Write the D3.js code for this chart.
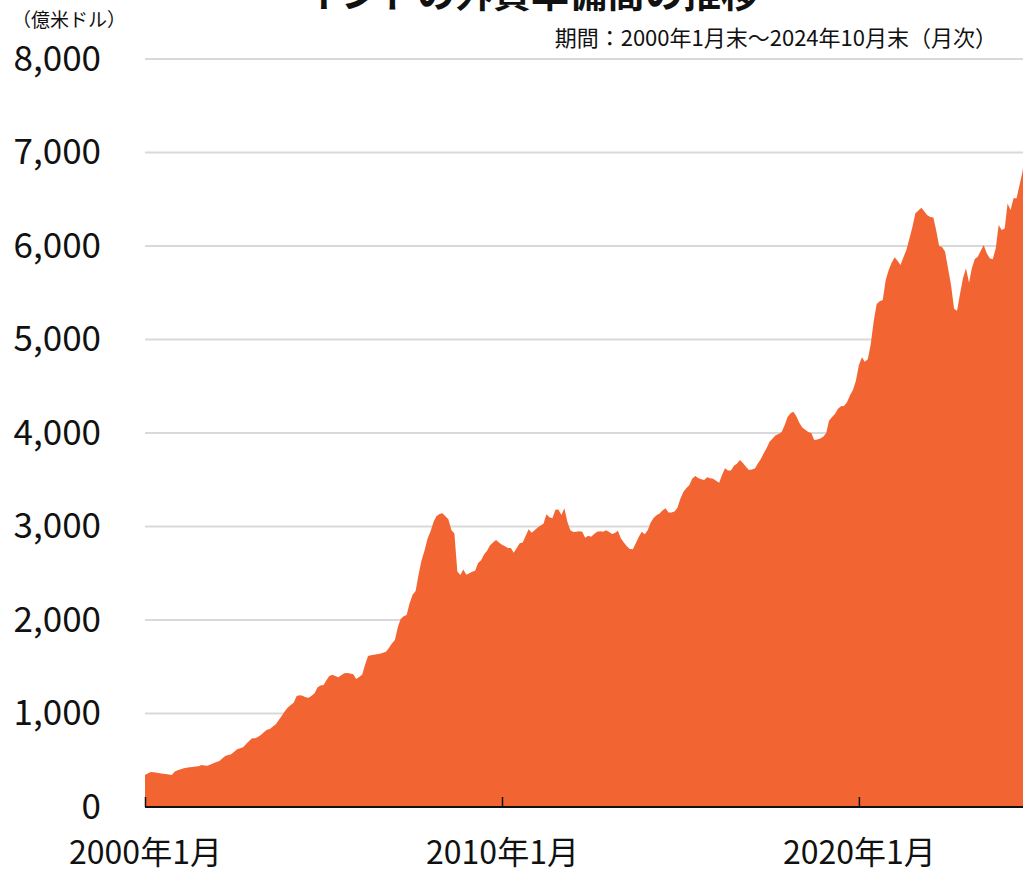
<!DOCTYPE html>
<html>
<head>
<meta charset="utf-8">
<script src="https://cdn.jsdelivr.net/npm/d3@7"></script>
<style>
  body { margin: 0; background: #fff; }
  svg { display: block; font-family: "Noto Sans CJK JP", "Noto Sans", sans-serif; }
</style>
</head>
<body>
<div id="chart"></div>
<script>
// monthly reserves, 億米ドル (2000年1月 .. 2024年10月)
var y2000 = [342, 360, 374, 372, 366, 360, 356, 352, 348, 342, 380, 392];
var y2001 = [405, 414, 420, 424, 428, 432, 436, 448, 444, 442, 455, 467];
var y2002 = [480, 492, 520, 545, 555, 563, 590, 617, 628, 640, 674, 705];
var y2003 = [734, 734, 750, 770, 800, 825, 835, 860, 885, 930, 975, 1025];
var y2004 = [1065, 1090, 1116, 1187, 1194, 1190, 1175, 1169, 1190, 1216, 1280, 1300];
var y2005 = [1305, 1358, 1400, 1415, 1400, 1387, 1410, 1430, 1432, 1428, 1420, 1369];
var y2006 = [1390, 1417, 1520, 1615, 1622, 1628, 1633, 1640, 1650, 1661, 1700, 1750];
var y2007 = [1786, 1928, 2010, 2040, 2053, 2180, 2270, 2310, 2490, 2640, 2745, 2870];
var y2008 = [2950, 3050, 3110, 3134, 3141, 3110, 3077, 2963, 2926, 2520, 2481, 2540];
var y2009 = [2485, 2500, 2515, 2528, 2610, 2640, 2700, 2740, 2800, 2830, 2856, 2830];
var y2010 = [2805, 2790, 2770, 2770, 2720, 2770, 2820, 2830, 2900, 2970, 2934, 2960];
var y2011 = [2990, 3010, 3030, 3130, 3100, 3087, 3180, 3182, 3123, 3195, 3050, 2960];
var y2012 = [2940, 2945, 2950, 2945, 2880, 2900, 2891, 2920, 2945, 2950, 2945, 2960];
var y2013 = [2940, 2920, 2930, 2955, 2874, 2830, 2790, 2760, 2756, 2820, 2890, 2945];
var y2014 = [2916, 2963, 3040, 3090, 3120, 3139, 3170, 3195, 3150, 3150, 3160, 3200];
var y2015 = [3300, 3372, 3410, 3440, 3510, 3540, 3520, 3505, 3497, 3526, 3515, 3511];
var y2016 = [3490, 3469, 3550, 3622, 3600, 3600, 3650, 3670, 3711, 3680, 3640, 3604];
var y2017 = [3610, 3620, 3670, 3720, 3780, 3840, 3907, 3940, 3975, 3990, 4010, 4080];
var y2018 = [4170, 4210, 4228, 4180, 4110, 4060, 4035, 4010, 4000, 3925, 3930, 3940];
var y2019 = [3960, 4000, 4130, 4170, 4203, 4260, 4285, 4289, 4330, 4400, 4460, 4560];
var y2020 = [4727, 4809, 4763, 4788, 4950, 5200, 5380, 5410, 5422, 5636, 5743, 5820];
var y2021 = [5879, 5840, 5797, 5880, 5957, 6080, 6200, 6349, 6380, 6409, 6370, 6330];
var y2022 = [6310, 6306, 6171, 6000, 5990, 5939, 5761, 5580, 5330, 5308, 5490, 5654];
var y2023 = [5761, 5606, 5760, 5860, 5884, 5950, 6011, 5922, 5870, 5857, 5973, 6225];
var y2024 = [6171, 6188, 6455, 6385, 6510, 6510, 6650, 6795, 7050, 6840];

var yTicks = [0, 1000, 2000, 3000, 4000, 5000, 6000, 7000, 8000];
var xTickYears = [2000, 2010, 2020];

var titleText = "インドの外貨準備高の推移";
var unitText = "（億米ドル）";
var periodText = "期間：2000年1月末～2024年10月末（月次）";

var values = [].concat(y2000, y2001, y2002, y2003, y2004, y2005, y2006, y2007,
  y2008, y2009, y2010, y2011, y2012, y2013, y2014, y2015, y2016, y2017,
  y2018, y2019, y2020, y2021, y2022, y2023, y2024);

var start = new Date(2000, 0, 1);
var data = values.map(function(v, i) {
  return { date: d3.timeMonth.offset(start, i), value: v };
});

var W = 1023, H = 874;
var left = 145, baseY = 807, topY = 59;

var svg = d3.select("#chart").append("svg")
  .attr("width", W)
  .attr("height", H);

// x: 10 years = 357px, last month runs a little past the right edge
var lastDate = data[data.length - 1].date;
var xScale = d3.scaleTime()
  .domain([start, lastDate])
  .range([left, left + 357 * d3.timeDay.count(start, lastDate) / d3.timeDay.count(start, new Date(2010, 0, 1))]);

var yScale = d3.scaleLinear()
  .domain([0, 8000])
  .range([baseY, topY]);

// gridlines
svg.append("g")
  .selectAll("line")
  .data(yTicks.filter(function(d) { return d > 0; }))
  .enter()
  .append("line")
  .attr("x1", left)
  .attr("x2", W)
  .attr("y1", function(d) { return yScale(d); })
  .attr("y2", function(d) { return yScale(d); })
  .attr("stroke", "#d9d9d9")
  .attr("stroke-width", 2);

// area
var area = d3.area()
  .x(function(d) { return xScale(d.date); })
  .y0(yScale(0))
  .y1(function(d) { return yScale(d.value); });

svg.append("path")
  .datum(data)
  .attr("d", area)
  .attr("fill", "#f26532");

// y axis labels
var yAxis = svg.append("g")
  .attr("transform", "translate(101,0)")
  .call(d3.axisLeft(yScale)
    .tickValues(yTicks)
    .tickSize(0)
    .tickPadding(0)
    .tickFormat(d3.format(",")));
yAxis.select(".domain").remove();
yAxis.selectAll("text")
  .attr("font-family", "\"Noto Sans CJK JP\", sans-serif")
  .attr("font-size", 35)
  .attr("fill", "#111");

// x axis, ticks point up into the plot
var xAxis = svg.append("g")
  .attr("transform", "translate(0," + baseY + ")")
  .call(d3.axisBottom(xScale)
    .tickValues(xTickYears.map(function(y) { return new Date(y, 0, 1); }))
    .tickSize(-10)
    .tickSizeOuter(0)
    .tickPadding(34)
    .tickFormat(function(d) { return d.getFullYear() + "年" + (d.getMonth() + 1) + "月"; }));
xAxis.select(".domain")
  .attr("d", "M" + left + ",0H" + W)
  .attr("stroke", "#111")
  .attr("stroke-width", 2);
xAxis.selectAll(".tick line")
  .attr("stroke", "#111")
  .attr("stroke-width", 1.5);
xAxis.selectAll("text")
  .attr("font-family", "\"Noto Sans CJK JP\", sans-serif")
  .attr("font-size", 32)
  .attr("fill", "#111");

// title (cut off at the top like the reference)
svg.append("text")
  .attr("x", 531)
  .attr("y", 7)
  .attr("text-anchor", "middle")
  .attr("font-size", 38)
  .attr("font-weight", "bold")
  .attr("fill", "#111")
  .text(titleText);

svg.append("text")
  .attr("x", 69)
  .attr("y", 27)
  .attr("text-anchor", "middle")
  .attr("font-size", 19)
  .attr("fill", "#111")
  .text(unitText);

svg.append("text")
  .attr("x", 997)
  .attr("y", 46)
  .attr("text-anchor", "end")
  .attr("font-size", 22)
  .attr("fill", "#111")
  .text(periodText);
</script>
</body>
</html>
